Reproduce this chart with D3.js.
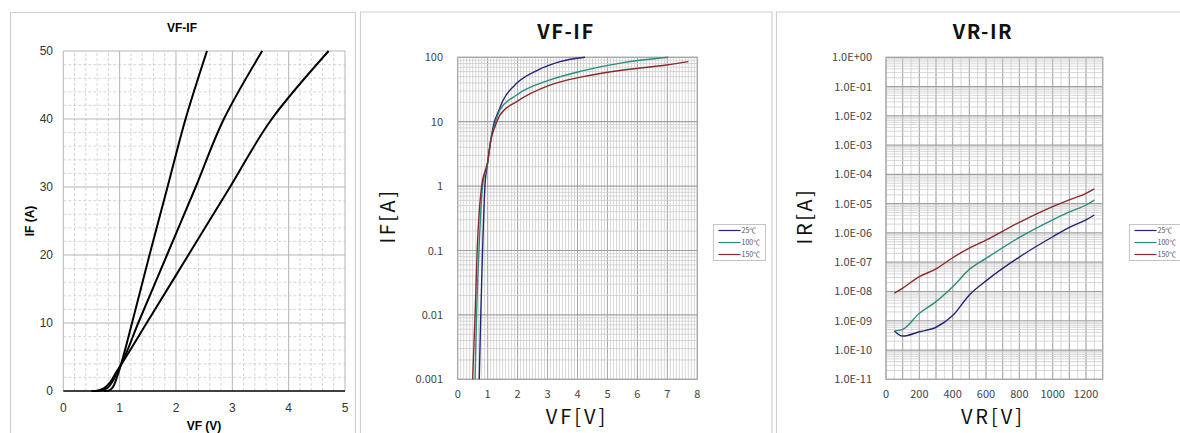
<!DOCTYPE html>
<html><head><meta charset="utf-8">
<script src="https://cdn.jsdelivr.net/npm/d3@7"></script>
<style>body{margin:0;background:#fff}svg{display:block}</style>
</head><body>
<svg id="c" width="1180" height="433"></svg>
<script>
// ---------- Panel 1 data (linear VF-IF, three curves) ----------
const p1VF_A = [0.72, 0.8, 0.85, 0.9, 0.95, 1.02, 1.22, 1.53, 1.85, 2.17, 2.55];
const p1IF_A = [0, 0.05, 0.3, 0.9, 2.0, 3.8, 10, 20, 30, 40, 50];
const p1VF_B = [0.6, 0.7, 0.75, 0.8, 0.85, 0.9, 0.95, 1.02, 1.33, 1.84, 2.35, 2.85, 3.53];
const p1IF_B = [0, 0.1, 0.3, 0.6, 1.1, 1.8, 2.7, 3.8, 10, 20, 30, 40, 50];
const p1VF_C = [0.5, 0.6, 0.65, 0.7, 0.75, 0.8, 0.85, 0.9, 0.95, 1.02, 1.48, 2.22, 2.96, 3.70, 4.71];
const p1IF_C = [0, 0.05, 0.15, 0.3, 0.6, 1.0, 1.5, 2.2, 2.9, 3.8, 10, 20, 30, 40, 50];
const p1XTicks = [0, 1, 2, 3, 4, 5];
const p1YTicks = [0, 10, 20, 30, 40, 50];

// ---------- Panel 2 data (log VF-IF) ----------
const p2Series = ["25℃", "100℃", "150℃"];
const p2VF_25 = [0.72, 0.77, 0.83, 0.91, 1.0, 1.1, 1.2, 1.35, 1.52, 1.97, 2.64, 3.42, 4.25];
const p2IF_25 = [0.001, 0.01, 0.1, 1, 2.3, 5, 9, 14, 21.7, 39.4, 62, 85.5, 100];
const p2VF_100 = [0.58, 0.63, 0.71, 0.83, 1.0, 1.1, 1.25, 1.41, 1.97, 3.08, 4.19, 5.53, 7.03];
const p2IF_100 = [0.001, 0.01, 0.1, 1, 2.3, 5, 9.5, 15.2, 26, 44.5, 62, 82.6, 100];
const p2VF_150 = [0.50, 0.58, 0.65, 0.80, 1.0, 1.1, 1.25, 1.41, 1.97, 3.08, 4.19, 5.53, 6.98, 7.70];
const p2IF_150 = [0.001, 0.01, 0.1, 1, 2.4, 5, 8.5, 12.7, 20.5, 37, 50, 63.5, 76, 85.5];
const p2XTicks = [0, 1, 2, 3, 4, 5, 6, 7, 8];
const p2YTicks = [0.001, 0.01, 0.1, 1, 10, 100];
const p2YLabels = ["0.001", "0.01", "0.1", "1", "10", "100"];

// ---------- Panel 3 data (log VR-IR) ----------
const p3Series = ["25℃", "100℃", "150℃"];
const p3VR = [50, 100, 200, 300, 400, 500, 600, 800, 1000, 1100, 1200, 1250];
const p3IR_25 = [4.5e-10, 3e-10, 4.2e-10, 6e-10, 1.5e-9, 7.6e-9, 2.3e-8, 1.5e-7, 7.4e-7, 1.55e-6, 2.8e-6, 4.1e-6];
const p3IR_100 = [4.5e-10, 5.1e-10, 1.8e-9, 4.5e-9, 1.45e-8, 5.7e-8, 1.35e-7, 7.0e-7, 2.8e-6, 5.2e-6, 9.0e-6, 1.33e-5];
const p3IR_150 = [8.7e-9, 1.3e-8, 3.2e-8, 5.9e-8, 1.42e-7, 3.0e-7, 5.7e-7, 2.3e-6, 7.9e-6, 1.35e-5, 2.25e-5, 3.2e-5];
const p3XTicks = [0, 200, 400, 600, 800, 1000, 1200];
const p3YExps = [0, -1, -2, -3, -4, -5, -6, -7, -8, -9, -10, -11];

const seriesColors = ["#24247a", "#2a8c7c", "#8a2a2a"];

const svg = d3.select("#c");

const frameColor = "#cfcfcf";
function frame(x0, y0, x1) {
  svg.append("path").attr("d", `M${x0},440V${y0}H${x1}V440`)
    .attr("fill", "none").attr("stroke", frameColor).attr("stroke-width", 1.2);
}
frame(10.5, 12.5, 355.5);
frame(360.5, 12, 772);
frame(776.5, 12, 1200);

// ================= Panel 1 =================
(function () {
  const g = svg.append("g");
  const x = d3.scaleLinear().domain([0, 5]).range([63.3, 345]);
  const y = d3.scaleLinear().domain([0, 50]).range([391, 51]);
  const font = "'Liberation Sans', Arial, sans-serif";
  const minorX = d3.range(0, 5.001, 0.2).filter(v => Math.abs(v - Math.round(v)) > 1e-6);
  const minorY = d3.range(0, 50.001, 2).filter(v => v % 10 !== 0);
  g.selectAll(".mx").data(minorX).join("line")
    .attr("x1", d => x(d)).attr("x2", d => x(d)).attr("y1", y(0)).attr("y2", y(50))
    .attr("stroke", "#cccccc").attr("stroke-dasharray", "3,2").attr("stroke-width", 0.8);
  g.selectAll(".my").data(minorY).join("line")
    .attr("y1", d => y(d)).attr("y2", d => y(d)).attr("x1", x(0)).attr("x2", x(5))
    .attr("stroke", "#cccccc").attr("stroke-dasharray", "3,2").attr("stroke-width", 0.8);
  g.selectAll(".Mx").data(p1XTicks).join("line")
    .attr("x1", d => x(d)).attr("x2", d => x(d)).attr("y1", y(0)).attr("y2", y(50))
    .attr("stroke", "#b4b4b4").attr("stroke-width", 1);
  g.selectAll(".My").data(p1YTicks.slice(1)).join("line")
    .attr("y1", d => y(d)).attr("y2", d => y(d)).attr("x1", x(0)).attr("x2", x(5))
    .attr("stroke", "#b4b4b4").attr("stroke-width", 1);
  g.append("line").attr("x1", x(0)).attr("x2", x(5)).attr("y1", y(0)).attr("y2", y(0))
    .attr("stroke", "#000").attr("stroke-width", 1.6);
  g.selectAll(".xt").data(p1XTicks).join("text")
    .attr("x", d => x(d)).attr("y", 412).attr("text-anchor", "middle")
    .attr("font-family", font).attr("font-size", 12).attr("fill", "#333").text(d => d);
  g.selectAll(".yt").data(p1YTicks).join("text")
    .attr("x", 53).attr("y", d => y(d) + 4).attr("text-anchor", "end")
    .attr("font-family", font).attr("font-size", 12).attr("fill", "#333").text(d => d);
  g.append("text").attr("x", 182).attr("y", 32).attr("text-anchor", "middle")
    .attr("font-family", font).attr("font-weight", "bold").attr("font-size", 12).text("VF-IF");
  g.append("text").attr("x", 204).attr("y", 430).attr("text-anchor", "middle")
    .attr("font-family", font).attr("font-weight", "bold").attr("font-size", 12).text("VF (V)");
  g.append("text").attr("transform", "translate(34,221) rotate(-90)").attr("text-anchor", "middle")
    .attr("font-family", font).attr("font-weight", "bold").attr("font-size", 12).text("IF (A)");
  const line = d3.line().x(d => x(d[0])).y(d => y(d[1])).curve(d3.curveMonotoneY);
  [[p1VF_A, p1IF_A], [p1VF_B, p1IF_B], [p1VF_C, p1IF_C]].forEach(([vx, vy]) => {
    g.append("path").datum(vx.map((v, i) => [v, vy[i]])).attr("d", line)
      .attr("fill", "none").attr("stroke", "#000").attr("stroke-width", 2)
      .attr("stroke-linejoin", "round");
  });
})();

// ===== helper for log panels =====
function logPanel(opt) {
  const g = svg.append("g");
  const x = d3.scaleLinear().domain(opt.xDomain).range(opt.xRange);
  const y = d3.scaleLog().domain(opt.yDomain).range(opt.yRange);
  const font = "'Noto Sans CJK JP', 'Noto Sans', sans-serif";
  const [x0, x1] = opt.xRange, [y0, y1] = opt.yRange;
  g.selectAll(".mx").data(opt.minorX).join("line")
    .attr("x1", d => x(d)).attr("x2", d => x(d)).attr("y1", y0).attr("y2", y1)
    .attr("stroke", "#cdcdcd").attr("stroke-width", 0.8);
  g.selectAll(".Mx").data(opt.majorX).join("line")
    .attr("x1", d => x(d)).attr("x2", d => x(d)).attr("y1", y0).attr("y2", y1)
    .attr("stroke", "#a8a8a8").attr("stroke-width", 1);
  const e0 = Math.round(Math.log10(opt.yDomain[0])), e1 = Math.round(Math.log10(opt.yDomain[1]));
  const minorY = [];
  for (let e = e0; e < e1; e++) for (let m = 2; m <= 9; m++) minorY.push(m * Math.pow(10, e));
  const majorY = d3.range(e0, e1 + 1).map(e => Math.pow(10, e));
  g.selectAll(".my").data(minorY).join("line")
    .attr("y1", d => y(d)).attr("y2", d => y(d)).attr("x1", x0).attr("x2", x1)
    .attr("stroke", "#cdcdcd").attr("stroke-width", 0.8);
  g.selectAll(".My").data(majorY).join("line")
    .attr("y1", d => y(d)).attr("y2", d => y(d)).attr("x1", x0).attr("x2", x1)
    .attr("stroke", "#a0a0a0").attr("stroke-width", 1.2);
  g.append("rect").attr("x", x0).attr("y", y1).attr("width", x1 - x0).attr("height", y0 - y1)
    .attr("fill", "none").attr("stroke", "#a8a8a8").attr("stroke-width", 1);
  g.selectAll(".xt").data(opt.xTicks).join("text")
    .attr("x", d => x(d)).attr("y", 398).attr("text-anchor", "middle")
    .attr("font-family", font).attr("font-size", 11).attr("fill", "#444").text(d => d);
  g.selectAll(".yt").data(opt.yTicks).join("text")
    .attr("x", opt.yLabelX).attr("y", d => y(d) + 4).attr("text-anchor", "end")
    .attr("font-family", font).attr("font-size", 11).attr("fill", "#444")
    .text((d, i) => opt.yLabels[i]);
  g.append("text").attr("x", opt.titleX).attr("y", 39).attr("text-anchor", "middle")
    .attr("font-family", font).attr("font-weight", "bold").attr("font-size", 20)
    .attr("letter-spacing", 1.5).attr("fill", "#111").text(opt.title);
  g.append("text").attr("x", opt.xLabelX).attr("y", 424).attr("text-anchor", "middle")
    .attr("font-family", font).attr("font-size", 20).attr("letter-spacing", 3)
    .attr("fill", "#111").text(opt.xLabel);
  g.append("text").attr("transform", `translate(${opt.yLabelPosX},216) rotate(-90)`).attr("text-anchor", "middle")
    .attr("font-family", font).attr("font-size", 20).attr("letter-spacing", 2.5)
    .attr("fill", "#111").text(opt.yLabel);
  const line = d3.line().x(d => x(d[0])).y(d => y(d[1])).curve(d3.curveMonotoneX);
  opt.series.forEach((s, i) => {
    g.append("path").datum(s.x.map((v, k) => [v, s.y[k]])).attr("d", line)
      .attr("fill", "none").attr("stroke", seriesColors[i]).attr("stroke-width", 1.4);
  });
  const L = opt.legend;
  g.append("rect").attr("x", L.x).attr("y", L.y).attr("width", L.w).attr("height", 36)
    .attr("fill", "#fff").attr("stroke", "#c4c4c4").attr("stroke-width", 1);
  opt.names.forEach((n, i) => {
    const yy = L.y + 6 + i * 12;
    g.append("line").attr("x1", L.x + 5).attr("x2", L.x + 27).attr("y1", yy).attr("y2", yy)
      .attr("stroke", seriesColors[i]).attr("stroke-width", 1.2);
    g.append("text").attr("x", L.x + 28).attr("y", yy + 2.5)
      .attr("font-family", font).attr("font-size", 7).attr("fill", "#555").text(n);
  });
}

// ================= Panel 2 =================
logPanel({
  xDomain: [0, 8], xRange: [457.7, 697.3],
  yDomain: [0.001, 100], yRange: [379.3, 57.3],
  minorX: d3.range(0, 8.0001, 0.1), majorX: p2XTicks,
  xTicks: p2XTicks, yTicks: p2YTicks, yLabels: p2YLabels, yLabelX: 443,
  title: "VF-IF", titleX: 566, xLabel: "VF[V]", xLabelX: 577, yLabel: "IF[A]", yLabelPosX: 395,
  names: p2Series,
  series: [{x: p2VF_25, y: p2IF_25}, {x: p2VF_100, y: p2IF_100}, {x: p2VF_150, y: p2IF_150}],
  legend: {x: 713.5, y: 224.5, w: 52}
});

// ================= Panel 3 =================
function sci(e) { return "1.0E" + (e < 0 ? "-" : "+") + String(Math.abs(e)).padStart(2, "0"); }
logPanel({
  xDomain: [0, 1300], xRange: [886, 1102.7],
  yDomain: [1e-11, 1], yRange: [379.3, 57.3],
  minorX: d3.range(0, 1300.1, 50), majorX: d3.range(0, 1300.1, 100),
  xTicks: p3XTicks, yTicks: p3YExps.map(e => Math.pow(10, e)), yLabels: p3YExps.map(sci), yLabelX: 872,
  title: "VR-IR", titleX: 983, xLabel: "VR[V]", xLabelX: 993, yLabel: "IR[A]", yLabelPosX: 812,
  names: p3Series,
  series: [{x: p3VR, y: p3IR_25}, {x: p3VR, y: p3IR_100}, {x: p3VR, y: p3IR_150}],
  legend: {x: 1129.5, y: 224.5, w: 52}
});
</script>
</body></html>
